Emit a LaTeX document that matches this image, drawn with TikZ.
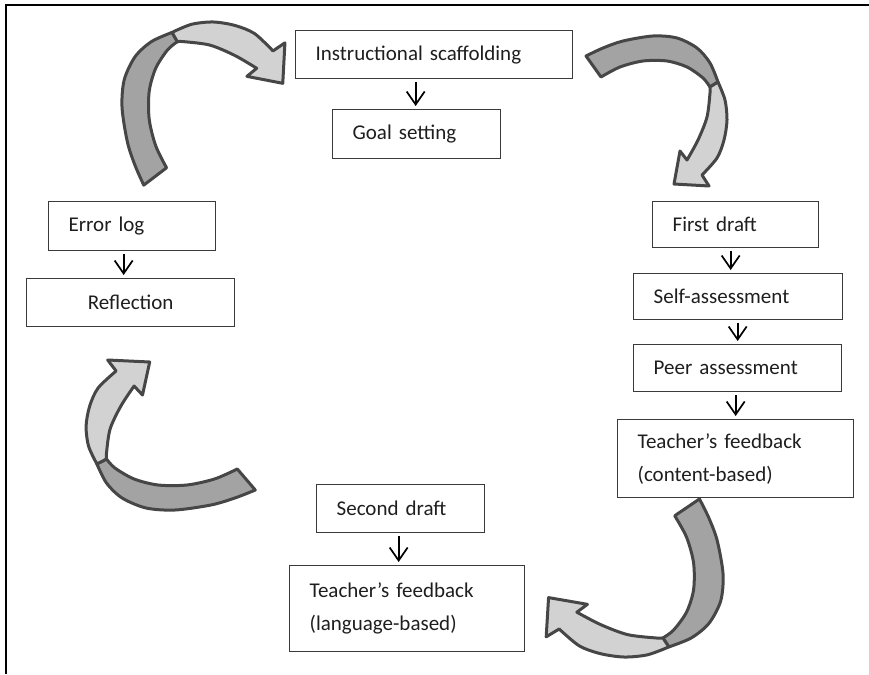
\documentclass[tikz,border=0pt]{standalone}
\usepackage{fontspec}
\setmainfont{Carlito}
\usetikzlibrary{arrows.meta}
\definecolor{darkfill}{HTML}{A3A3A3}
\definecolor{lightfill}{HTML}{D2D2D2}
\definecolor{edgec}{HTML}{464646}
\definecolor{boxc}{HTML}{3A3A3A}
\definecolor{txtc}{HTML}{1E1E1E}
\newcommand\bigcurve[1]{%
\begin{scope}[#1]
 \filldraw[darkband] plot[smooth] coordinates {(-69,54) (-52,62) (-32,69) (-2,74) (22,72) (42,62) (55,47) (63,28)} -- plot[smooth] coordinates {(55,23) (48,32) (32,43) (12,49) (-12,49) (-35,43) (-54,33)} -- cycle;
 \filldraw[lightband] plot[smooth] coordinates {(63,28) (70,10) (72,-10) (69,-30) (62,-48) (47,-65)} -- (54,-76) -- (19,-74) -- (25,-41) -- plot[smooth] coordinates {(32,-50) (43,-30) (52,-7) (55,17) (55,23)} -- cycle;
\end{scope}}
\begin{document}
\begin{tikzpicture}[x=1pt,y=1pt,
  box/.style={draw=boxc, line width=1.3pt, anchor=north west, inner xsep=20pt, inner ysep=0pt,
    align=left, font=\fontsize{21}{33}\selectfont, text=txtc},
  smallarr/.style={draw=black, line width=1.7pt, -{Straight Barb[length=13pt,width=18pt]},
    shorten <=3pt, shorten >=3pt},
  darkband/.style={fill=darkfill, draw=edgec, line width=3pt, line join=round},
  lightband/.style={fill=lightfill, draw=edgec, line width=3pt, line join=round}]
\useasboundingbox (0,0) rectangle (869,-674);
\draw[line width=2.2pt] (6,-674) -- (6,-5) -- (869,-5);

% curved block arrows
\bigcurve{shift={(202.4,-105.3)}, xscale=1.086, yscale=1.157, rotate=90}
\bigcurve{shift={(655,-110)}}
\bigcurve{shift={(635.8,-576.3)}, xscale=1.179, yscale=1.121, rotate=-90}
\bigcurve{shift={(172.5,-436)}, xscale=1.2, yscale=1.0, rotate=180}

% boxes
\node[box, minimum width=277pt, minimum height=48pt, text width=237pt] (is) at (295,-30) {Instructional scaffolding};
\node[box, minimum width=168pt, minimum height=49pt, text width=128pt] (gs) at (332,-109) {Goal setting};
\node[box, minimum width=167pt, minimum height=49pt, text width=127pt] (el) at (48,-201) {Error log};
\node[box, minimum width=208pt, minimum height=48pt, text width=168pt, align=center] (rf) at (26,-278) {Reflection};
\node[box, minimum width=166pt, minimum height=46pt, text width=126pt] (fd) at (652,-201) {First draft};
\node[box, minimum width=209pt, minimum height=46pt, text width=169pt] (sa) at (633,-273) {Self-assessment};
\node[box, minimum width=208pt, minimum height=47pt, text width=168pt] (pa) at (633,-344) {Peer assessment};
\node[box, minimum width=236pt, minimum height=78pt, text width=196pt] (tc) at (617,-419) {Teacher’s feedback\\(content-based)};
\node[box, minimum width=168pt, minimum height=48pt, text width=128pt] (sd) at (316,-484) {Second draft};
\node[box, minimum width=235pt, minimum height=86pt, text width=195pt] (tl) at (289,-565) {Teacher’s feedback\\(language-based)};

% small arrows
\draw[smallarr] ([xshift=-18.5pt]is.south) -- ([xshift=-1pt]gs.north);
\draw[smallarr] ([xshift=-8.5pt]el.south) -- ([xshift=-7pt]rf.north);
\draw[smallarr] ([xshift=-5pt]fd.south) -- ([xshift=-7.5pt]sa.north);
\draw[smallarr] ([xshift=-0.5pt]sa.south) -- (pa.north);
\draw[smallarr] ([xshift=-2pt]pa.south) -- (tc.north);
\draw[smallarr] ([xshift=-2pt]sd.south) -- ([xshift=-8.5pt]tl.north);
\end{tikzpicture}
\end{document}
